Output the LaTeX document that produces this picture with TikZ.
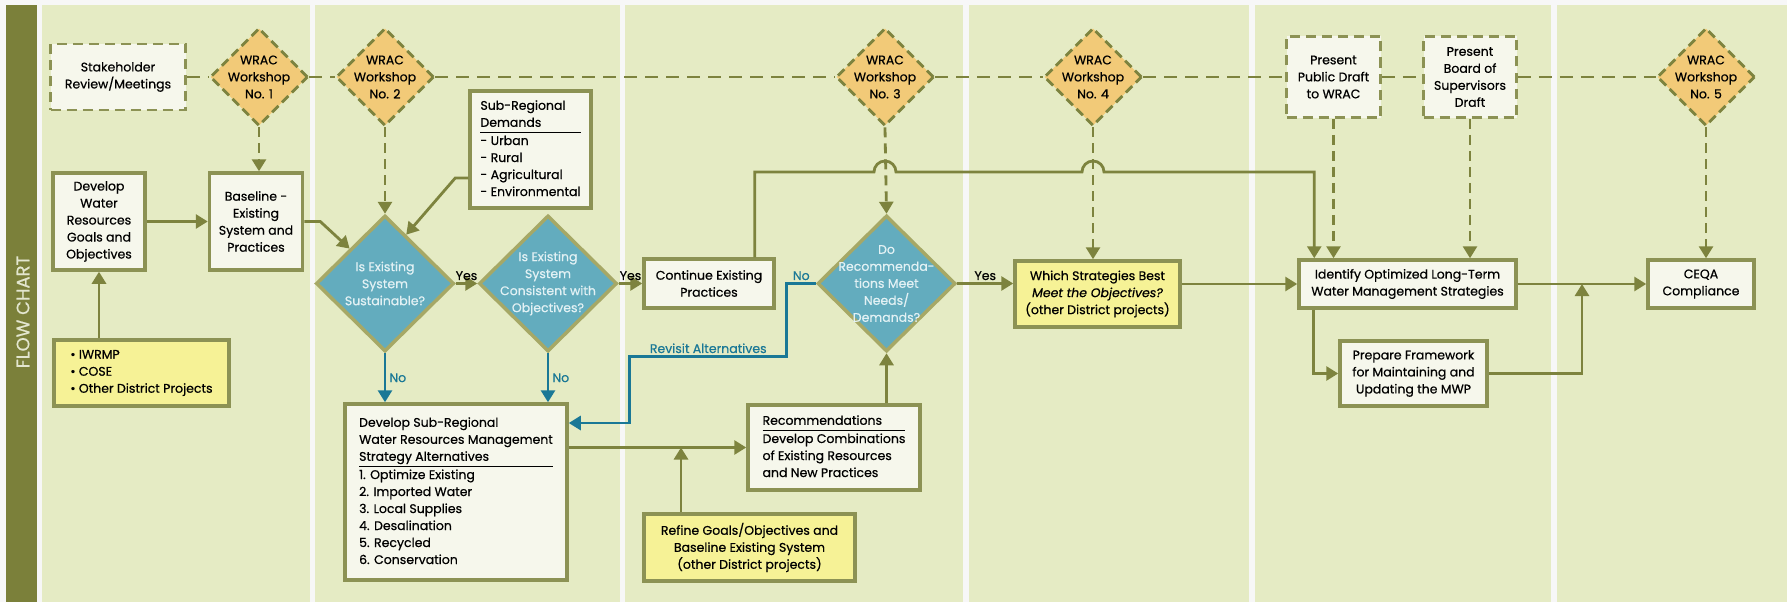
\documentclass[tikz,border=0pt]{standalone}
\usepackage{fontspec}
\setmainfont{Poppins}[FakeBold=0.6]
\usetikzlibrary{shapes.geometric,arrows.meta,calc}

\definecolor{panel}{HTML}{E5EBC4}
\definecolor{bar}{HTML}{7B803A}
\definecolor{bartext}{HTML}{E3E6CF}
\definecolor{olive}{HTML}{7D833E}
\definecolor{boxline}{HTML}{8C9254}
\definecolor{boxfill}{HTML}{F6F7EC}
\definecolor{note}{HTML}{F6F296}
\definecolor{wrac}{HTML}{F2CA78}
\definecolor{decide}{HTML}{63ACBE}
\definecolor{decideline}{HTML}{A6A866}
\definecolor{decidetext}{HTML}{E2F1F4}
\definecolor{revisit}{HTML}{1A7896}

\setlength{\arrayrulewidth}{1.2pt}

\begin{document}
\begin{tikzpicture}[x=1pt,y=-1pt]
\tikzstyle{box}=[draw=boxline, line width=3.5pt, fill=boxfill, inner sep=0pt, align=center, font=\fontsize{12.5}{17}\selectfont]
\tikzstyle{notebox}=[box, fill=note]
\tikzstyle{meeting}=[box, line width=2.8pt, dash pattern=on 10pt off 6pt]
\tikzstyle{workshop}=[diamond, draw=olive, line width=2.8pt, dash pattern=on 9pt off 5pt, fill=wrac, minimum width=98pt, minimum height=98pt, inner sep=0pt]
\tikzstyle{decision}=[diamond, draw=decideline, line width=3.5pt, fill=decide, minimum width=138pt, minimum height=136pt, inner sep=0pt]
\tikzstyle{wtext}=[align=center, inner sep=0pt, font=\fontsize{12.5}{17}\selectfont]
\tikzstyle{dtext}=[wtext, text=decidetext]
\tikzstyle{line}=[draw=olive, line width=2.8pt, -{Triangle[length=12pt,width=14pt]}]
\tikzstyle{dline}=[line, dash pattern=on 10pt off 6pt]
\tikzstyle{link}=[draw=olive, line width=2.8pt, dash pattern=on 13pt off 8pt]
\tikzstyle{noline}=[line, draw=revisit]
\tikzstyle{yes}=[above=2pt, inner sep=0pt, font=\fontsize{12.5}{15}\selectfont]
\tikzstyle{no}=[right=3pt, inner sep=0pt, text=revisit, font=\fontsize{12.5}{15}\selectfont]

\useasboundingbox (0,0) rectangle (1787,602);

% Background panels
\fill[white!94!gray] (0,0) rectangle (1787,602);
\fill[bar] (6,5) rectangle (37,602);
\fill[panel] (42,5) rectangle (310,602);
\fill[panel] (315,5) rectangle (620,602);
\fill[panel] (625,5) rectangle (963,602);
\fill[panel] (969,5) rectangle (1249,602);
\fill[panel] (1255,5) rectangle (1551,602);
\fill[panel] (1557,5) rectangle (1787,602);
\node[rotate=90, text=bartext, font=\fontsize{18}{18}\selectfont] (title) at (23,312) {FLOW CHART};

% Meetings and workshops
\node[meeting, minimum width=135pt, minimum height=66pt] (stake) at (118,77) {Stakeholder\\Review/Meetings};
\node[workshop] (wrac1) at (259,77) {};
\node[wtext] (wrac1txt) at (wrac1) {WRAC\\Workshop\\No. 1};
\node[workshop] (wrac2) at (385,77) {};
\node[wtext] (wrac2txt) at (wrac2) {WRAC\\Workshop\\No. 2};
\node[workshop] (wrac3) at (885,77) {};
\node[wtext] (wrac3txt) at (wrac3) {WRAC\\Workshop\\No. 3};
\node[workshop] (wrac4) at (1093,77) {};
\node[wtext] (wrac4txt) at (wrac4) {WRAC\\Workshop\\No. 4};
\node[meeting, minimum width=94pt, minimum height=81pt] (pubdraft) at (1333.5,77) {Present\\Public Draft\\to WRAC};
\node[meeting, minimum width=93pt, minimum height=81pt] (board) at (1470,77) {Present\\Board of\\Supervisors\\Draft};
\node[workshop] (wrac5) at (1706,77) {};
\node[wtext] (wrac5txt) at (wrac5) {WRAC\\Workshop\\No. 5};

% Process boxes
\node[box, minimum width=92pt, minimum height=97pt] (goals) at (99,221.5) {Develop\\Water\\Resources\\Goals and\\Objectives};
\node[box, minimum width=93pt, minimum height=97pt] (base) at (256,221.5) {Baseline -\\Existing\\System and\\Practices};
\node[notebox, minimum width=175pt, minimum height=66pt, align=left] (iwrmp) at (141.5,373) {\textbullet{} IWRMP\\\textbullet{} COSE\\\textbullet{} Other District Projects};
\node[box, minimum width=121pt, minimum height=117pt] (subdem) at (530.5,149.5) {\begin{tabular}{@{}l@{}}Sub-Regional\\Demands\\\hline - Urban\\- Rural\\- Agricultural\\- Environmental\end{tabular}};
\node[box, minimum width=130pt, minimum height=49pt] (cont) at (709,283.5) {Continue Existing\\Practices};
\node[notebox, minimum width=165pt, minimum height=66pt] (which) at (1097.5,294) {Which Strategies Best\\\textit{Meet the Objectives?}\\(other District projects)};
\node[box, minimum width=217pt, minimum height=48pt] (ident) at (1407.5,284) {Identify Optimized Long-Term\\Water Management Strategies};
\node[box, minimum width=147pt, minimum height=65pt] (prep) at (1413.5,373.5) {Prepare Framework\\for Maintaining and\\Updating the MWP};
\node[box, minimum width=106pt, minimum height=48pt] (ceqa) at (1701,284) {CEQA\\Compliance};
\node[box, minimum width=222pt, minimum height=176pt] (devsub) at (456,492) {\begin{tabular}{@{}l@{}}Develop Sub-Regional\\Water Resources Management\\Strategy Alternatives\\\hline 1. Optimize Existing\\2. Imported Water\\3. Local Supplies\\4. Desalination\\5. Recycled\\6. Conservation\end{tabular}};
\node[box, minimum width=172pt, minimum height=85pt] (recbox) at (834,447.5) {\begin{tabular}{@{}l@{}}Recommendations\\\hline Develop Combinations\\of Existing Resources\\and New Practices\end{tabular}};
\node[notebox, minimum width=211pt, minimum height=67pt] (refine) at (749.5,547.5) {Refine Goals/Objectives and\\Baseline Existing System\\(other District projects)};

% Decisions
\node[decision] (sust) at (385,283.5) {};
\node[dtext] (susttxt) at (sust) {Is Existing\\System\\Sustainable?};
\node[decision] (consist) at (548,283.5) {};
\node[dtext] (consisttxt) at (consist) {Is Existing\\System\\Consistent with\\Objectives?};
\node[decision] (recdec) at (886.5,283.5) {};
\node[dtext] (recdectxt) at (recdec) {Do\\Recommenda-\\tions Meet\\Needs/\\Demands?};

% Helper points
\coordinate (hopline) at (0,172);
\coordinate (refjoin) at (681,447.5);
\coordinate (ceqajoin) at (1582,284);

% Meeting line
\draw[link] (stake) -- (wrac1) -- (wrac2) -- (wrac3) -- (wrac4) -- (pubdraft) -- (board) -- (wrac5);

% Workshop inputs
\draw[dline] (wrac1.south) -- (wrac1.south |- base.north);
\draw[dline] (wrac2.south) -- (sust.north);
\draw[dline] (wrac3.south) -- (recdec.north);
\draw[dline] (wrac4.south) -- (wrac4.south |- which.north);
\draw[dline] (pubdraft.south) -- (pubdraft.south |- ident.north);
\draw[dline] (board.south) -- (board.south |- ident.north);
\draw[dline] (wrac5.south) -- (wrac5.south |- ceqa.north);

% Main flow
\draw[line] (iwrmp.north -| goals.south) -- (goals.south);
\draw[line] (goals) -- (base);
\draw[line] (base.east) -- ++(16,0) -- (sust.north west);
\draw[line] ([yshift=-28.5pt]subdem.west) -- ++(-13,0) -- ($(sust.north)!0.3!(sust.east)$);
\draw[line] (sust.east) -- node[yes]{Yes} (consist.west);
\draw[line] (consist.east) -- node[yes]{Yes} (cont.west);
\draw[noline] (sust.south) -- node[no]{No} (sust.south |- devsub.north);
\draw[noline] (consist.south) -- node[no]{No} (consist.south |- devsub.north);
\draw[line] (devsub.east |- recbox.west) -- (recbox.west);
\draw[line] (refine.north -| refjoin) -- (refjoin);
\draw[line] (recdec.south |- recbox.north) -- (recdec.south);
\draw[noline] (recdec.west) -- node[yes, text=revisit]{No} ++(-29,0) -- ++(0,73) -- node[yes, text=revisit]{Revisit Alternatives} ++(-157,0) |- ([yshift=69pt]devsub.east);
\draw[line] ([xshift=-21pt]cont.north east) |- ([xshift=-11pt]wrac3.south |- hopline) arc[start angle=180, end angle=0, radius=11pt] -- ([xshift=-11pt]wrac4.south |- hopline) arc[start angle=180, end angle=0, radius=11pt] -| ([xshift=17pt]ident.north west);
\draw[line] (recdec.east) -- node[yes]{Yes} (recdec.east -| which.west);
\draw[line] (which.east |- ident.west) -- (ident.west);
\draw[line] (ident) -- (ceqa);
\draw[line] ([xshift=16pt]ident.south west) |- (prep.west);
\draw[line] (prep.east) -| (ceqajoin);
\end{tikzpicture}
\end{document}
